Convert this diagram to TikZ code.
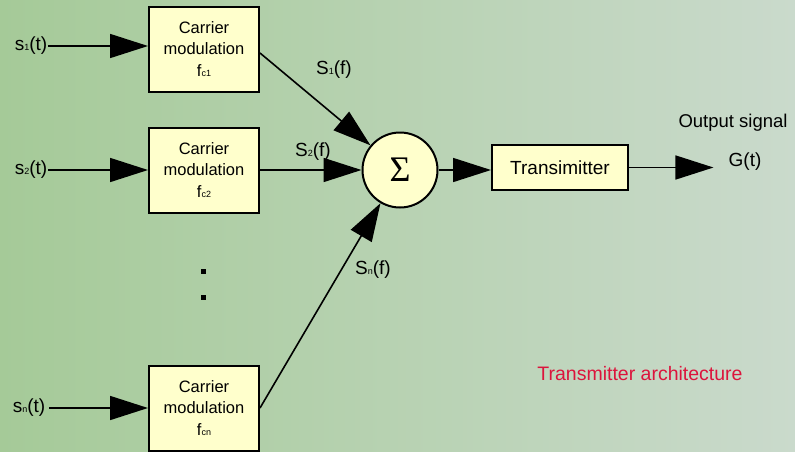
\documentclass[tikz,border=0pt]{standalone}
\usepackage{fontspec}
\setmainfont{Liberation Sans}
\newfontfamily\sigmafont{Liberation Serif}
\usetikzlibrary{arrows.meta,positioning}
\definecolor{boxfill}{RGB}{255,255,204}
\definecolor{bgleft}{RGB}{165,202,152}
\definecolor{bgright}{RGB}{202,218,204}
\definecolor{red}{RGB}{220,20,60}
\newcommand{\sub}[1]{{\fontsize{9}{9}\selectfont #1}}
\tikzset{
  modbox/.style={draw, line width=2pt, fill=boxfill, minimum width=110pt,
    minimum height=85pt, align=center, inner sep=0pt,
    font=\fontsize{16.5}{21.5}\selectfont},
  sig/.style={font=\fontsize{19}{19}\selectfont, inner sep=1pt},
  big/.style={-{Triangle[length=38pt,width=24pt]}, line width=1.6pt}
}

\begin{document}
\begin{tikzpicture}[x=1pt,y=-1pt]
    \useasboundingbox (0,0) rectangle (795,451);
    \shade[left color=bgleft, right color=bgright] (0,0) rectangle (795,451);

    %% modulator boxes
    \node[modbox] (mod1) at (204,49) {Carrier\\modulation\\f\sub{c1}};
    \node[modbox] (mod2) at (204,170) {Carrier\\modulation\\f\sub{c2}};
    \node[modbox] (modn) at (204,408) {Carrier\\modulation\\f\sub{cn}};

    %% inputs
    \node[sig] (s1) at (31,46) {s\sub{1}(t)};
    \node[sig] (s2) at (31,170) {s\sub{2}(t)};
    \node[sig] (sn) at (29,408) {s\sub{n}(t)};
    \draw[big] (s1.east) -- (s1.east -| mod1.west);
    \draw[big] (s2.east) -- (mod2.west);
    \draw[big] ([xshift=3pt]sn.east) -- (modn.west);

    %% vertical dots
    \fill (200.5,268.5) rectangle ++(5,5);
    \fill (200.5,294.5) rectangle ++(5,5);

    %% summer
    \node[draw, circle, line width=2pt, fill=boxfill, minimum size=75pt,
      inner sep=0pt, font=\sigmafont\fontsize{36}{36}\selectfont] (sum) at (400,170) {Σ};
    \draw[big] ([yshift=-4pt]mod1.east) -- (sum);
    \draw[big] (mod2.east) -- (sum.west);
    \draw[big] (modn.east) -- (sum);
    \node[sig] (S1) at (334,70) {S\sub{1}(f)};
    \node[sig] (S2) at (313,152) {S\sub{2}(f)};
    \node[sig] (Sn) at (373,270) {S\sub{n}(f)};

    %% transmitter and output
    \node[draw, line width=2pt, fill=boxfill, minimum width=136pt, minimum height=45pt,
      font=\fontsize{19}{19}\selectfont] (tx) at (560,167.5) {Transimitter};
    \draw[big] (sum.east) -- (sum.east -| tx.west);
    \node[sig] (G) at (745,162) {G(t)};
    \draw[big] (tx.east) -- ([xshift=-14pt]G.west |- tx.east);
    \node[font=\fontsize{18.5}{18.5}\selectfont] (out) at (733,123) {Output signal};

    \node[text=red, font=\fontsize{19.5}{19.5}\selectfont] (title) at (640,374) {Transmitter architecture};
\end{tikzpicture}
\end{document}
